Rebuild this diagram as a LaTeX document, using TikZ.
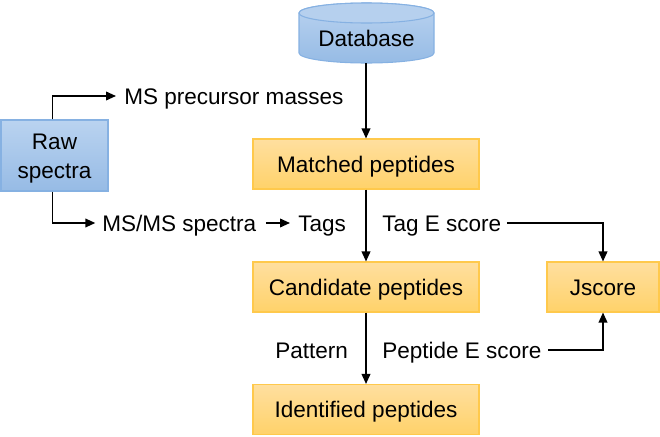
\documentclass[tikz,border=0pt]{standalone}
\usepackage{fontspec}
\setmainfont{Liberation Sans}
\usetikzlibrary{arrows.meta}
\definecolor{bluetop}{HTML}{BAD3F0}
\definecolor{bluebot}{HTML}{96BBE5}
\definecolor{blueline}{HTML}{86B1E2}
\definecolor{bluecap}{HTML}{B6D0EE}
\definecolor{ortop}{HTML}{FFDF9F}
\definecolor{orbot}{HTML}{FFD26A}
\definecolor{orline}{HTML}{FFC94C}
\begin{document}
\begin{tikzpicture}[x=0.75pt,y=-0.75pt,
  every node/.style={font=\fontsize{16.9}{21.75}\selectfont,text height=12.1pt,text depth=0pt},
  bluebox/.style={draw=blueline,line width=0.8pt,top color=bluetop,bottom color=bluebot,align=center,inner sep=0pt,text height=,text depth=},
  orbox/.style={draw=orline,line width=0.8pt,top color=ortop,bottom color=orbot,minimum height=37.5pt,inner sep=0pt},
  lbl/.style={inner sep=0pt,anchor=west},
  conn/.style={line width=1.2pt,-{Triangle[length=7.5pt,width=6.5pt]}},
  plain/.style={line width=1.2pt}]
\useasboundingbox (0,0) rectangle (660,436);
% database cylinder
\path[draw=blueline,line width=0.8pt,top color=bluetop,bottom color=bluebot]
  (299,13) -- (299,53) arc[start angle=180,end angle=360,x radius=50.625pt,y radius=7.5pt]
  -- (434,13) arc[start angle=0,end angle=180,x radius=50.625pt,y radius=7.5pt] -- cycle;
\path[draw=blueline,line width=0.8pt,fill=bluecap] (366.5,13) ellipse[x radius=50.625pt,y radius=7.5pt];
\node[inner sep=0pt] (db) at (366.5,38.5) {Database};
\coordinate (dbbot) at (366,63);
% boxes
\node[bluebox,minimum width=80.25pt,minimum height=53.25pt] (raw) at (54.5,155.5) {\rule{0pt}{15.7pt}Raw\\spectra};
\node[orbox,minimum width=169.5pt] (matched) at (366,164) {Matched peptides};
\node[orbox,minimum width=169.5pt] (cand) at (366,287) {Candidate peptides};
\node[orbox,minimum width=169.5pt] (ident) at (366,409.5) {Identified peptides};
\node[orbox,minimum width=84pt] (js) at (603,287) {Jscore};
% labels
\node[lbl] (msp) at (124,96) {MS precursor masses};
\node[lbl] (msms) at (102,223) {MS/MS spectra};
\node[lbl] (tags) at (298,223) {Tags};
\node[lbl] (tage) at (382,223) {Tag E score};
\node[lbl] (pat) at (275,350) {Pattern};
\node[lbl] (pepe) at (382,350) {Peptide E score};
\coordinate (c1) at (603,223);
\coordinate (c2) at (603,350);
% connectors
\draw[conn] (dbbot) -- (matched.north);
\draw[conn] (matched.south) -- (cand.north);
\draw[conn] (cand.south) -- (ident.north);
\draw[conn,shorten >=6pt] ([xshift=-1.5pt]raw.north) |- (msp.west);
\draw[conn,shorten >=5pt] ([xshift=-1.5pt]raw.south) |- (msms.west);
\draw[conn,shorten <=7pt,shorten >=6pt] (msms.east) -- (tags.west);
\draw[conn,shorten <=4pt] (tage.east) -- (c1) -- (js.north);
\draw[conn,shorten <=5pt] (pepe.east) -- (c2) -- (js.south);
\end{tikzpicture}
\end{document}
